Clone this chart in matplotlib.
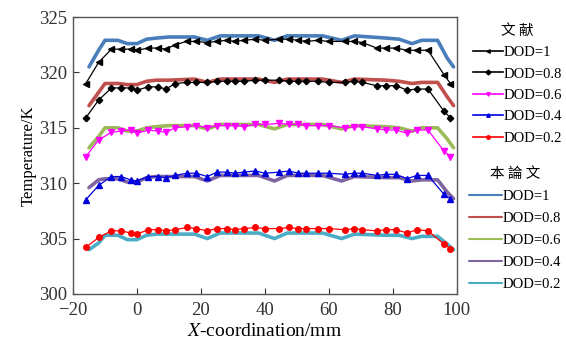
import numpy as np
import matplotlib
matplotlib.use('Agg')
from matplotlib import pyplot as plt

plt.rcParams['font.family'] = ['Liberation Serif', 'Noto Sans CJK SC']
plt.rcParams['mathtext.fontset'] = 'stix'

# literature data (markers)
lit_x = [-16, -12, -8, -5, -2, 0, 3.5, 6.5, 9, 12, 15.5, 18.5, 22, 25, 28, 30.5, 33.5, 37,
         40, 44.5, 47.5, 50.5, 53, 56.5, 60, 65, 68, 70.5, 75, 78, 81, 84.5, 87.5, 91, 96, 98]
lit_dod1 = [319.0, 320.9, 322.1, 322.1, 322.1, 322.0, 322.2, 322.2, 322.1, 322.5, 322.8, 322.8,
            322.7, 322.8, 322.9, 322.8, 322.9, 323.0, 322.9, 323.0, 323.0, 322.9, 322.8, 322.9,
            322.8, 322.8, 322.8, 322.7, 322.2, 322.2, 322.2, 322.0, 322.0, 322.0, 319.8, 319.0]
lit_dod08 = [315.9, 317.5, 318.6, 318.6, 318.6, 318.4, 318.7, 318.7, 318.5, 319.0, 319.1, 319.1,
             319.1, 319.2, 319.2, 319.2, 319.2, 319.3, 319.3, 319.3, 319.2, 319.2, 319.2, 319.2,
             319.1, 319.1, 319.2, 319.1, 318.8, 318.8, 318.8, 318.4, 318.5, 318.5, 316.5, 315.9]
lit_dod06 = [312.4, 313.9, 314.6, 314.7, 314.8, 314.5, 314.8, 314.7, 314.6, 315.0, 315.1, 315.2,
             315.0, 315.2, 315.2, 315.2, 315.1, 315.3, 315.3, 315.4, 315.3, 315.3, 315.2, 315.2,
             315.2, 315.0, 315.1, 315.1, 314.9, 314.8, 314.8, 314.5, 314.8, 314.8, 312.9, 312.4]
lit_dod04 = [308.5, 309.8, 310.6, 310.6, 310.3, 310.2, 310.6, 310.6, 310.5, 310.7, 310.9, 310.9,
             310.6, 311.0, 311.0, 310.9, 311.0, 311.1, 310.9, 311.0, 311.1, 310.9, 310.9, 310.9,
             310.9, 310.8, 310.9, 310.9, 310.7, 310.8, 310.8, 310.4, 310.7, 310.7, 309.0, 308.6]
lit_dod02 = [304.2, 305.1, 305.7, 305.7, 305.5, 305.4, 305.8, 305.8, 305.7, 305.8, 306.0, 305.9,
             305.7, 305.9, 305.9, 305.8, 305.9, 306.0, 305.9, 305.9, 306.0, 305.9, 305.9, 305.9,
             305.9, 305.8, 305.9, 305.8, 305.7, 305.8, 305.8, 305.5, 305.8, 305.7, 304.5, 304.1]

# this paper (thick lines)
our_x = [-15, -12, -10, -6, -3, 0, 3, 6, 10, 18, 22, 26, 38, 43, 47, 58, 64, 68, 78, 82, 86,
         89, 94, 97, 99]
our_dod1 = [320.5, 322.0, 322.9, 322.9, 322.6, 322.6, 323.0, 323.1, 323.2, 323.2, 322.9, 323.3,
            323.3, 322.9, 323.3, 323.3, 322.9, 323.3, 323.1, 323.0, 322.6, 322.9, 322.9, 321.3, 320.5]
our_dod08 = [317.0, 318.2, 319.0, 319.0, 318.9, 318.9, 319.2, 319.3, 319.3, 319.4, 319.1, 319.4,
             319.4, 319.1, 319.4, 319.4, 319.1, 319.4, 319.3, 319.2, 319.0, 319.1, 319.1, 317.8, 317.0]
our_dod06 = [313.2, 314.2, 315.0, 315.0, 314.7, 314.7, 315.0, 315.1, 315.2, 315.2, 314.9, 315.3,
             315.3, 314.9, 315.3, 315.3, 314.9, 315.2, 315.1, 315.0, 314.7, 315.0, 315.0, 314.0, 313.2]
our_dod04 = [309.6, 310.3, 310.4, 310.4, 310.1, 310.1, 310.5, 310.6, 310.6, 310.6, 310.2, 310.7,
             310.7, 310.2, 310.7, 310.7, 310.2, 310.6, 310.5, 310.5, 310.2, 310.3, 310.3, 309.2, 308.6]
our_dod02 = [304.0, 304.6, 305.3, 305.3, 304.9, 304.9, 305.3, 305.4, 305.4, 305.4, 305.0, 305.5,
             305.5, 305.0, 305.5, 305.5, 305.0, 305.4, 305.3, 305.3, 305.0, 305.2, 305.2, 304.5, 304.0]

labels = ['DOD=1', 'DOD=0.8', 'DOD=0.6', 'DOD=0.4', 'DOD=0.2']
lit_series = [lit_dod1, lit_dod08, lit_dod06, lit_dod04, lit_dod02]
our_series = [our_dod1, our_dod08, our_dod06, our_dod04, our_dod02]
lit_colors = ['black', 'black', '#ff00ff', '#0000dd', '#ff0000']
lit_markers = ['<', 'D', 'v', '^', 'o']
our_colors = ['#4a7ebb', '#c0504d', '#9bbb59', '#7f64a2', '#4bacc6']

fig = plt.figure(figsize=(5.66, 3.41), dpi=100)
ax = fig.add_axes([0.129, 0.138, 0.678, 0.812])

our_handles = []
for ys, c, lab in zip(our_series, our_colors, labels):
    h, = ax.plot(our_x, ys, color=c, lw=2.6, label=lab, zorder=2, solid_capstyle='round')
    our_handles.append(h)

lit_handles = []
for ys, c, m, lab in zip(lit_series, lit_colors, lit_markers, labels):
    ms = 3.3 if m == 'D' else 4
    ax.plot(lit_x, ys, color=c, lw=0.9, marker=m, ms=ms, zorder=3)
    h, = ax.plot([], [], color=c, lw=1.2, marker=m, ms=2.5, label=lab)
    lit_handles.append(h)

ax.set_xlim(-20, 100)
ax.set_ylim(300, 325)
ax.set_xticks([-20, 0, 20, 40, 60, 80, 100])
ax.set_xticklabels(['\u221220', '0', '20', '40', '60', '80', '100'])
ax.set_yticks([300, 305, 310, 315, 320, 325])
ax.tick_params(direction='in', length=4, labelsize=13.5, colors='#333333')
ax.tick_params(axis='x', pad=6)
ax.tick_params(axis='y', pad=4)
for sp in ax.spines.values():
    sp.set_color('#555555')
    sp.set_linewidth(1.0)

ax.set_ylabel('Temperature/K', fontsize=12, labelpad=2)
ax.set_xlabel('$\\mathit{X}$-coordination/mm', fontsize=14, labelpad=3)

leg1 = fig.legend(handles=lit_handles, loc='upper left', bbox_to_anchor=(0.817, 0.96),
                  frameon=False, fontsize=10.5, title='文 献', labelspacing=0.56,
                  handlelength=2.1, handletextpad=0.05, borderpad=0.2)
leg1.get_title().set_family(['Noto Sans CJK SC'])
leg1.get_title().set_fontsize(10.5)
leg1.get_title().set_weight('medium')
leg2 = fig.legend(handles=our_handles, loc='upper left', bbox_to_anchor=(0.81, 0.54),
                  frameon=False, fontsize=10.5, title='本 論 文', labelspacing=0.6,
                  handlelength=2.3, handletextpad=0.05, borderpad=0.2)
leg2.get_title().set_family(['Noto Sans CJK TC'])
leg2.get_title().set_fontsize(10.5)
leg2.get_title().set_weight('medium')
for h in leg2.legend_handles:
    h.set_linewidth(1.5)

fig.savefig('out.png', dpi=100)
